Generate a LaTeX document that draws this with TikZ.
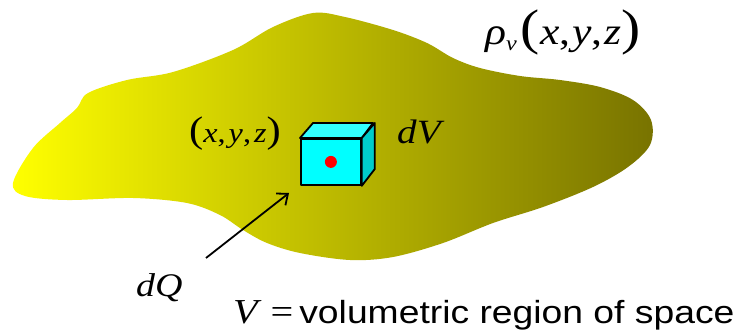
\documentclass[tikz,border=0pt]{standalone}
\usepackage{fontspec}
\setmainfont{Liberation Serif}[FakeStretch=1.15]
\newfontfamily\labelsans{Liberation Sans}[FakeStretch=1.165]
\usetikzlibrary{arrows.meta,positioning}
\definecolor{blobyellow}{HTML}{FFFF00}
\definecolor{blobmid}{RGB}{200,196,0}
\definecolor{blobolive}{RGB}{120,115,0}
\definecolor{cubefront}{HTML}{00FFFF}
\definecolor{cubetop}{HTML}{33FFFF}
\definecolor{cubeside}{HTML}{00CCCC}
\newcommand{\iv}[1]{\textit{#1}}
\newcommand{\bigpar}[2]{{\fontsize{#1}{#1}\selectfont #2}}

\begin{document}
\begin{tikzpicture}[x=1pt,y=-1pt,
  face/.style={draw=black,line width=1.8pt,line join=round},
  lbl/.style={inner sep=0pt,anchor=base west},
  arrow/.style={-{Straight Barb[length=9pt,width=15pt]},line width=1.8pt}
]
\useasboundingbox (0,0) rectangle (737,334);
% charge region
\shade[left color=blobyellow,middle color=blobmid,right color=blobolive]
  plot[smooth cycle,tension=0.55] coordinates {
    (13,183) (33,148) (60,123) (77,108) (88,93) (127,80) (173,72) (233,50)
    (273,27) (313,13) (345,17) (393,30) (427,43) (453,58) (480,68) (520,76)
    (560,80) (600,87) (633,100) (651,120) (650,145) (628,167) (593,187)
    (543,207) (493,223) (443,243) (393,257) (350,260) (300,253) (267,243)
    (243,230) (220,215) (187,203) (133,198) (67,200) (25,196)};
% volume element
\node[face,fill=cubefront,minimum width=60pt,minimum height=46pt,inner sep=0pt,anchor=north west] (front) at (300,138) {};
\draw[face,fill=cubetop] (front.north west) -- ++(13,-15) -- ++(60,0) -- (front.north east) -- cycle;
\draw[face,fill=cubeside] (front.north east) -- ++(13,-15) -- ++(0,46) -- (front.south east) -- cycle;
\node[circle,fill=red,minimum size=12pt,inner sep=0pt] (charge) at (front.center) {};
% labels
\node[lbl,font=\fontsize{38}{40}\selectfont] (density) at (485,45)
  {\iv{ρ}\raisebox{-6pt}{\fontsize{21}{21}\selectfont\iv{v}}\hspace{4pt}\bigpar{50}{(}\iv{x},\hspace{2pt}\iv{y},\hspace{2pt}\iv{z}\bigpar{50}{)}};
\node[lbl,font=\fontsize{28}{30}\selectfont] (point) at (189,143)
  {\bigpar{37}{(}\iv{x},\hspace{3pt}\iv{y},\hspace{3pt}\iv{z}\bigpar{37}{)}};
\node[lbl,font=\fontsize{34}{36}\selectfont] (dv) at (397,144) {\iv{dV}};
\node[lbl,font=\fontsize{33}{35}\selectfont] (dq) at (136,296) {\iv{dQ}};
\node[lbl,font=\fontsize{35}{36}\selectfont] (region) at (233,323)
  {\iv{V}\hspace{9pt}=\hspace{6pt}{\labelsans\fontsize{32}{36}\selectfont volumetric region of space}};
% charge element arrow
\coordinate (dqtail) at (206,258);
\coordinate (dqtip) at (289,193);
\draw[arrow] (dqtail) -- (dqtip);
\end{tikzpicture}
\end{document}
